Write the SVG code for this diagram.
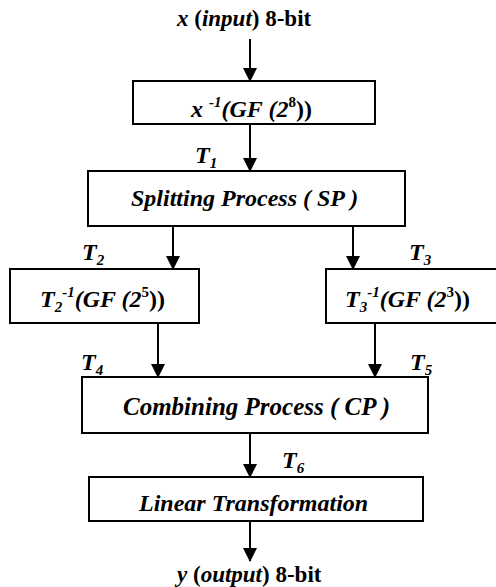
<svg xmlns="http://www.w3.org/2000/svg" width="496" height="587" viewBox="0 0 496 587">
<defs>
<style>
.box{fill:#fff;stroke:#000;stroke-width:2}
.ln{stroke:#000;stroke-width:2;fill:none}
.t{font-family:'Liberation Serif','Liberation Sans',sans-serif;font-weight:bold;font-size:24px;fill:#000}
.i{font-style:italic}
.sub{font-size:15px}
</style>
<marker id="ah" markerWidth="14" markerHeight="14" refX="13" refY="7" orient="auto" markerUnits="userSpaceOnUse">
<path d="M0,0 L14,7 L0,14 Z" fill="#000"/>
</marker>
</defs>
<g id="connectors">
<line class="ln" x1="250" y1="39" x2="250" y2="81" marker-end="url(#ah)"/>
<line class="ln" x1="250" y1="124" x2="250" y2="171" marker-end="url(#ah)"/>
<line class="ln" x1="173" y1="226" x2="173" y2="269" marker-end="url(#ah)"/>
<line class="ln" x1="353" y1="226" x2="353" y2="269" marker-end="url(#ah)"/>
<line class="ln" x1="158" y1="323" x2="158" y2="377" marker-end="url(#ah)"/>
<line class="ln" x1="375" y1="323" x2="375" y2="377" marker-end="url(#ah)"/>
<line class="ln" x1="250" y1="433" x2="250" y2="477" marker-end="url(#ah)"/>
<line class="ln" x1="250" y1="521" x2="250" y2="561" marker-end="url(#ah)"/>
</g>
<g id="input"><text class="t" x="177" y="26" style="font-size:23px"><tspan class="i">x</tspan> (<tspan class="i">input</tspan>) 8-bit</text></g>
<g id="inv8">
<rect class="box" x="133" y="81" width="242" height="43"/>
<text class="t i" x="191" y="117">x <tspan class="sub" dy="-10">-1</tspan><tspan dy="10">(GF (2</tspan><tspan class="sub" dy="-10" style="font-style:normal">8</tspan><tspan dy="10" style="font-style:normal">))</tspan></text>
</g>
<g id="lblT1"><text class="t i" x="195" y="163">T<tspan class="sub" dy="5">1</tspan></text></g>
<g id="sp">
<rect class="box" x="88" y="171" width="317" height="55"/>
<text class="t i" x="131" y="206">Splitting Process ( SP )</text>
</g>
<g id="lblT2"><text class="t i" x="82" y="260">T<tspan class="sub" dy="5">2</tspan></text></g>
<g id="lblT3"><text class="t i" x="409" y="260">T<tspan class="sub" dy="5">3</tspan></text></g>
<g id="inv5">
<rect class="box" x="10" y="269" width="189" height="54"/>
<text class="t i" x="40" y="307">T<tspan class="sub" dy="5">2</tspan><tspan class="sub" dy="-15">-1</tspan><tspan dy="10">(GF (2</tspan><tspan class="sub" dy="-10" style="font-style:normal">5</tspan><tspan dy="10" style="font-style:normal">))</tspan></text>
</g>
<g id="inv3">
<rect class="box" x="326" y="269" width="172" height="54"/>
<text class="t i" x="345" y="307">T<tspan class="sub" dy="5">3</tspan><tspan class="sub" dy="-15">-1</tspan><tspan dy="10">(GF (2</tspan><tspan class="sub" dy="-10" style="font-style:normal">3</tspan><tspan dy="10" style="font-style:normal">))</tspan></text>
</g>
<g id="lblT4"><text class="t i" x="81" y="370">T<tspan class="sub" dy="5">4</tspan></text></g>
<g id="lblT5"><text class="t i" x="410" y="370">T<tspan class="sub" dy="5">5</tspan></text></g>
<g id="cp">
<rect class="box" x="82" y="377" width="346" height="56"/>
<text class="t i" x="123" y="415" style="font-size:25px">Combining Process ( CP )</text>
</g>
<g id="lblT6"><text class="t i" x="282" y="468">T<tspan class="sub" dy="5">6</tspan></text></g>
<g id="lt">
<rect class="box" x="89" y="477" width="334" height="44"/>
<text class="t i" x="139" y="511">Linear Transformation</text>
</g>
<g id="output"><text class="t" x="177" y="582" style="font-size:23px"><tspan class="i">y</tspan> (<tspan class="i">output</tspan>) 8-bit</text></g>
</svg>
